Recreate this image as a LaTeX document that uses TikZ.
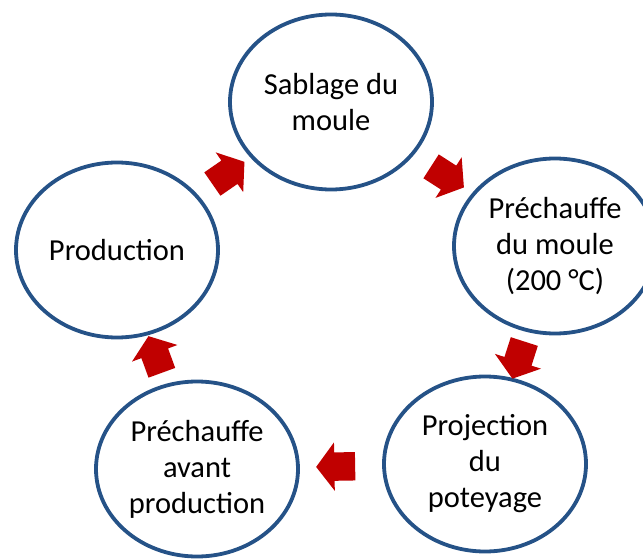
\documentclass[tikz,border=0pt]{standalone}
\usepackage{fontspec}
\setmainfont{Carlito}
\usetikzlibrary{shapes.geometric,shapes.arrows,calc}
\definecolor{bordbleu}{RGB}{37,82,135}
\definecolor{rougefleche}{RGB}{192,0,0}
\tikzset{etape/.style={ellipse,draw=bordbleu,line width=3.8pt,fill=white,
    minimum width=202pt,minimum height=175pt,inner sep=0pt,align=center,
    font=\fontsize{30.5}{36}\selectfont},
  fleche/.style={single arrow,fill=rougefleche,draw=none,inner xsep=0pt,
    inner ysep=14pt,minimum height=39pt,single arrow head extend=10pt,
    single arrow tip angle=106,sloped,allow upside down}}

\begin{document}
\begin{tikzpicture}[x=1pt,y=-1pt]
\useasboundingbox (0,0) rectangle (643,559);
\clip (0,0) rectangle (643,559);
\node[etape] (sab) at (331,102) {Sablage du\\moule};
\node[etape] (pre) at (555,246) {Préchauffe\\du moule\\(200 °C)};
\node[etape] (proj) at (485,464) {Projection\\du\\poteyage};
\node[etape] (avant) at (197,469) {Préchauffe\\avant\\production};
\node[etape] (prod) at (117,250) {Production};
\foreach \a/\b in {prod/sab,sab/pre,pre/proj,proj/avant,avant/prod}
  \path (\a.center) -- node[fleche] {} (\b.center);
\end{tikzpicture}
\end{document}
